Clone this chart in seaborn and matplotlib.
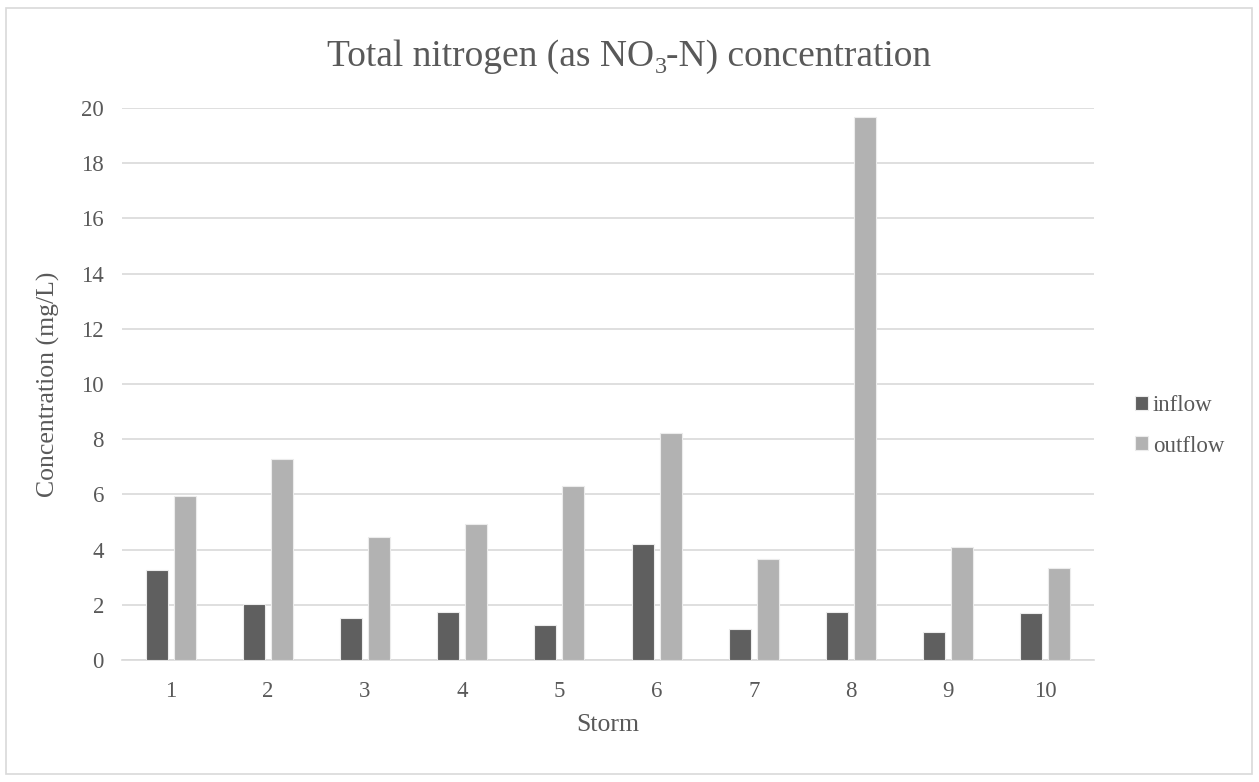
import numpy as np
import pandas as pd
import matplotlib
matplotlib.use("Agg")
import matplotlib.pyplot as plt
from matplotlib.patches import Rectangle
import seaborn as sns

storms = ["1", "2", "3", "4", "5", "6", "7", "8", "9", "10"]
inflow = [3.26, 2.03, 1.53, 1.74, 1.26, 4.19, 1.14, 1.75, 1.00, 1.71]
outflow = [5.93, 7.28, 4.46, 4.94, 6.29, 8.23, 3.66, 19.68, 4.08, 3.33]
series_names = ["inflow", "outflow"]
colors = ["#5f5f5f", "#b2b2b2"]
y_ticks = [0, 2, 4, 6, 8, 10, 12, 14, 16, 18, 20]

df = pd.DataFrame({
    "Storm": storms * 2,
    "value": inflow + outflow,
    "series": [series_names[0]] * len(storms) + [series_names[1]] * len(storms),
})

sns.set_theme(style="white")
plt.rcParams["font.family"] = ["Liberation Serif", "DejaVu Serif"]

text_color = "#595959"
grid_color = "#d9d9d9"
W, H = 1259, 782

fig = plt.figure(figsize=(W / 100, H / 100), dpi=100)
ax = fig.add_axes([122 / W, 1 - 660 / H, (1094 - 122) / W, (660 - 108) / H])

sns.barplot(data=df, x="Storm", y="value", hue="series", order=storms,
            hue_order=series_names, palette=colors, width=0.576, gap=0.215,
            saturation=1, ax=ax, edgecolor="#ececec", linewidth=0.8, zorder=3)

ax.set_ylim(0, 20)
ax.set_yticks(y_ticks)
ax.set_xlim(-0.5, len(storms) - 0.5)
ax.yaxis.grid(True, color=grid_color, linewidth=1.2, zorder=0)
ax.set_axisbelow(True)
for s in ["top", "right", "left"]:
    ax.spines[s].set_visible(False)
ax.spines["bottom"].set_color(grid_color)
ax.spines["bottom"].set_linewidth(1.2)
ax.tick_params(axis="both", length=0, labelsize=16.5, colors=text_color)
ax.tick_params(axis="y", pad=13)
ax.tick_params(axis="x", pad=15)
ax.set_xlabel("Storm", fontsize=18.5, color=text_color)
ax.set_ylabel("Concentration (mg/L)", fontsize=18.5, color=text_color)
ax.xaxis.set_label_coords(0.5, (660 - 714) / 552)
ax.yaxis.set_label_coords((60 - 122) / 972, 0.5)

# Title with a real subscript
base_y = 1 - 66 / H
parts = [("Total nitrogen (as NO", 27, 0), ("3", 17.5, -7), ("-N) concentration", 27, 0)]
texts = []
for s, fs, dy in parts:
    texts.append(fig.text(0, base_y + dy / H, s, fontsize=fs, color=text_color,
                          va="baseline", ha="left"))
fig.canvas.draw()
r = fig.canvas.get_renderer()
widths = [t.get_window_extent(r).width for t in texts]
x = (W - sum(widths)) / 2
for t, w in zip(texts, widths):
    t.set_x(x / W)
    x += w

leg = ax.legend(loc="center left", bbox_to_anchor=(1135 / W, 1 - 426 / H),
                bbox_transform=fig.transFigure, frameon=False, borderpad=0,
                borderaxespad=0, fontsize=16.5, handlelength=0.57,
                handleheight=0.57, handletextpad=0.2, labelspacing=0.83,
                labelcolor=text_color)

fig.patches.append(Rectangle((6 / W, 8 / H), 1246 / W, 766 / H,
                             transform=fig.transFigure, fill=False,
                             edgecolor=grid_color, linewidth=1.2))

fig.savefig("out.png", dpi=100, facecolor="white")
